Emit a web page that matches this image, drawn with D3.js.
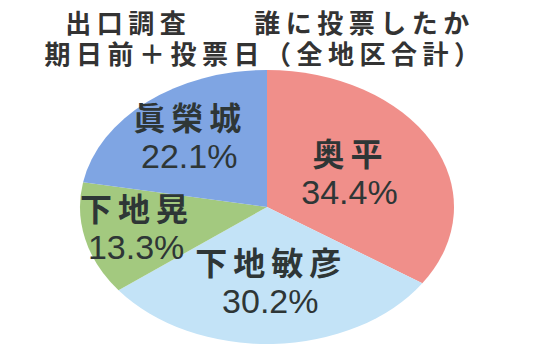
<!DOCTYPE html>
<html>
<head>
<meta charset="utf-8">
<script src="https://cdn.jsdelivr.net/npm/d3@7"></script>
<style>
  body { margin: 0; background: #fff; }
  svg { display: block; }
</style>
</head>
<body>
<script>
// 出口調査 - 誰に投票したか（期日前＋投票日、全地区合計）
var candidates = ["奥平", "下地敏彦", "下地晃", "眞榮城"];
var shares = [34.4, 30.2, 13.3, 22.1];
var sliceColors = ["#f08f8a", "#c3e3f7", "#a3c97f", "#7fa5e3"];
var titleLines = ["出口調査\u3000\u3000誰に投票したか", "期日前＋投票日（全地区合計）"];

var width = 557,
    height = 364;

// ellipse of the pie (photo of a slide, so it is squashed)
var cx = 267, cy = 207, rx = 187, ry = 137;
// how far out each label sits, as a share of the radius
var labelRadius = [0.5, 0.56, 0.72, 0.65];

var svg = d3.select("body").append("svg")
    .attr("width", width)
    .attr("height", height);

svg.selectAll("text.title")
    .data(titleLines)
  .enter().append("text")
    .attr("class", "title")
    .attr("x", function(d, i) { return i == 0 ? 270 : 265; })
    .attr("y", function(d, i) { return 21 + i * 31; })
    .attr("text-anchor", "middle")
    .attr("dominant-baseline", "central")
    .style("font-family", "'Noto Sans CJK JP', sans-serif")
    .style("font-weight", 700)
    .style("font-size", "26px")
    .style("letter-spacing", "5.5px")
    .style("fill", "#333")
    .text(function(d) { return d; });

var pie = d3.pie().sort(null).value(function(d) { return d; });
var arcs = pie(shares);

var arc = d3.arc().innerRadius(0).outerRadius(ry);

var g = svg.append("g")
    .attr("transform", "translate(" + cx + "," + cy + ")");

g.append("g")
    .attr("transform", "scale(" + (rx / ry) + ",1)")
  .selectAll("path")
    .data(arcs)
  .enter().append("path")
    .attr("d", arc)
    .style("fill", function(d, i) { return sliceColors[i]; });

var labels = g.selectAll("g.label")
    .data(arcs)
  .enter().append("g")
    .attr("class", "label")
    .attr("transform", function(d, i) {
      var r = ry * labelRadius[i];
      var c = d3.arc().innerRadius(r).outerRadius(r).centroid(d);
      return "translate(" + (c[0] * rx / ry) + "," + (c[1] - 2) + ")";
    });

labels.append("text")
    .attr("x", 1)
    .attr("y", -21)
    .attr("text-anchor", "middle")
    .attr("dominant-baseline", "central")
    .style("font-family", "'Noto Sans CJK JP', sans-serif")
    .style("font-weight", 700)
    .style("font-size", "32px")
    .style("letter-spacing", "6px")
    .style("fill", "#2e3636")
    .text(function(d, i) { return candidates[i]; });

labels.append("text")
    .attr("y", 19)
    .attr("text-anchor", "middle")
    .attr("dominant-baseline", "central")
    .style("font-family", "'Liberation Sans', Arial, sans-serif")
    .style("font-size", "34px")
    .style("fill", "#2e3636")
    .text(function(d) { return d3.format(".1f")(d.data) + "%"; });
</script>
</body>
</html>
